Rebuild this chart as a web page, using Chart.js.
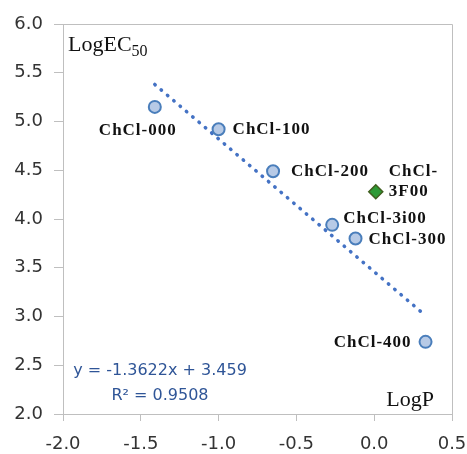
<!DOCTYPE html>
<html>
<head>
<meta charset="utf-8">
<script src="https://cdn.jsdelivr.net/npm/chart.js@4.4.1/dist/chart.umd.min.js"></script>
<style>
  html, body { margin: 0; padding: 0; background: #fff; }
</style>
</head>
<body>
<canvas id="chart" width="467" height="454"></canvas>
<script>
// compounds fitted by the trend line
const compounds = ['ChCl-000', 'ChCl-100', 'ChCl-200', 'ChCl-3i00', 'ChCl-300', 'ChCl-400'];
const logP = [-1.41, -1.00, -0.65, -0.27, -0.12, 0.33];
const logEC50 = [5.15, 4.92, 4.49, 3.94, 3.80, 2.74];

// the odd one out (green diamond), label split on two lines
const otherLabel = ['ChCl-', '3F00'];
const otherLogP = [0.01];
const otherLogEC50 = [4.28];

// linear trend shown on the chart
const trendSlope = -1.3622;
const trendIntercept = 3.459;
const trendR2 = 0.9508;

const xTicks = [-2.0, -1.5, -1.0, -0.5, 0.0, 0.5];
const yTicks = [2.0, 2.5, 3.0, 3.5, 4.0, 4.5, 5.0, 5.5, 6.0];

// where each label sits relative to its point (pixels)
const labelPlace = [
  { dx: -17, dy: 24, align: 'center' },
  { dx: 14, dy: 0, align: 'left' },
  { dx: 18, dy: 0, align: 'left' },
  { dx: 11, dy: -6, align: 'left' },
  { dx: 13, dy: 1, align: 'left' },
  { dx: -14, dy: 1, align: 'right' }
];

const gridGrey = '#bfbfbf';
const tickFont = { family: '"DejaVu Sans"', size: 18 };

const trendX = [Math.min(...logP), Math.max(...logP)];
const trendData = trendX.map(x => ({ x: x, y: trendSlope * x + trendIntercept }));

const frame = {
  id: 'frame',
  beforeDatasetsDraw(chart) {
    const { ctx, chartArea: a } = chart;
    ctx.save();
    ctx.strokeStyle = gridGrey;
    ctx.lineWidth = 1;
    ctx.beginPath();
    ctx.moveTo(a.left, a.top + 0.5);
    ctx.lineTo(a.right + 0.5, a.top + 0.5);
    ctx.lineTo(a.right + 0.5, a.bottom);
    ctx.stroke();
    ctx.restore();
  }
};

const texts = {
  id: 'texts',
  afterDatasetsDraw(chart) {
    const { ctx, chartArea: a } = chart;
    ctx.save();
    // point labels
    ctx.font = 'bold 17px "Liberation Serif"';
    ctx.letterSpacing = '1px';
    ctx.fillStyle = '#111';
    ctx.textBaseline = 'middle';
    chart.getDatasetMeta(0).data.forEach((pt, i) => {
      const p = labelPlace[i];
      ctx.textAlign = p.align;
      ctx.fillText(compounds[i], pt.x + p.dx, pt.y + p.dy);
    });
    const d = chart.getDatasetMeta(1).data[0];
    ctx.textAlign = 'left';
    ctx.fillText(otherLabel[0], d.x + 13, d.y - 20);
    ctx.fillText(otherLabel[1], d.x + 13, d.y);

    // axis titles inside the plot
    ctx.letterSpacing = '0px';
    ctx.textBaseline = 'alphabetic';
    ctx.font = '22px "Liberation Serif"';
    ctx.fillStyle = '#111';
    ctx.textAlign = 'left';
    ctx.fillText('LogEC', a.left + 5, a.top + 27);
    const w = ctx.measureText('LogEC').width;
    ctx.font = '16px "Liberation Serif"';
    ctx.fillText('50', a.left + 5 + w, a.top + 32);
    ctx.font = '22px "Liberation Serif"';
    ctx.textAlign = 'right';
    ctx.fillText('LogP', a.right - 18, a.bottom - 8);

    // trend equation
    ctx.font = '16px "DejaVu Sans"';
    ctx.fillStyle = '#2f5597';
    ctx.textAlign = 'center';
    const eq = 'y = ' + trendSlope + 'x + ' + trendIntercept;
    ctx.fillText(eq, a.left + 97, a.bottom - 39);
    ctx.fillText('R\u00b2 = ' + trendR2.toFixed(4), a.left + 97, a.bottom - 14);
    ctx.restore();
  }
};

new Chart(document.getElementById('chart'), {
  type: 'scatter',
  data: {
    datasets: [
      {
        data: logP.map((x, i) => ({ x: x, y: logEC50[i] })),
        pointRadius: 6,
        pointBorderWidth: 2,
        pointBackgroundColor: '#b7cae6',
        pointBorderColor: '#4a7ebb',
        order: 1
      },
      {
        data: otherLogP.map((x, i) => ({ x: x, y: otherLogEC50[i] })),
        pointStyle: 'rectRot',
        pointRadius: 7,
        pointBorderWidth: 1.5,
        pointBackgroundColor: '#2e9a36',
        pointBorderColor: '#3f5f1f',
        order: 1
      },
      {
        type: 'line',
        data: trendData,
        showLine: true,
        pointRadius: 0,
        borderColor: '#4472c4',
        borderWidth: 3.5,
        borderDash: [0.5, 7.8],
        borderCapStyle: 'round',
        fill: false,
        order: 2
      }
    ]
  },
  options: {
    responsive: false,
    animation: false,
    devicePixelRatio: 1,
    layout: { padding: { top: 24, right: 15, left: 0, bottom: 0 } },
    plugins: { legend: { display: false }, tooltip: { enabled: false } },
    scales: {
      x: {
        type: 'linear',
        min: -2, max: 0.5,
        afterBuildTicks: s => { s.ticks = xTicks.map(v => ({ value: v })); },
        afterFit: s => { s.height = 40; s.paddingLeft = 0; s.paddingRight = 0; },
        grid: { drawOnChartArea: false, drawTicks: true, tickLength: 7, color: gridGrey },
        border: { display: true, color: gridGrey },
        ticks: { font: tickFont, color: '#333', padding: 13, maxRotation: 0,
                 callback: v => Number(v).toFixed(1) }
      },
      y: {
        type: 'linear',
        min: 2, max: 6,
        afterBuildTicks: s => { s.ticks = yTicks.map(v => ({ value: v })); },
        afterFit: s => { s.width = 63; s.paddingTop = 0; s.paddingBottom = 0; },
        grid: { drawOnChartArea: false, drawTicks: true, tickLength: 9, color: gridGrey },
        border: { display: true, color: gridGrey },
        ticks: { font: tickFont, color: '#333', padding: 11,
                 callback: v => Number(v).toFixed(1) }
      }
    }
  },
  plugins: [frame, texts]
});
</script>
</body>
</html>
